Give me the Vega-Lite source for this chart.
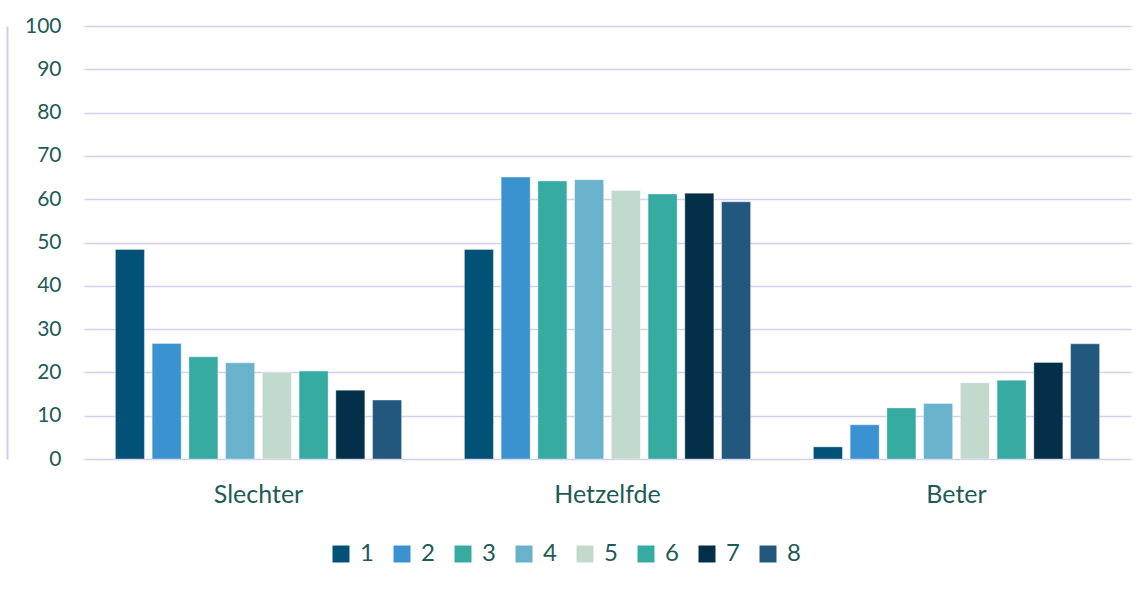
{
  "$schema": "https://vega.github.io/schema/vega-lite/v6.json",
  "width": 1047,
  "height": 433,
  "autosize": "none",
  "padding": {"left": 84, "top": 26, "right": 14, "bottom": 134},
  "background": "white",
  "config": {
    "view": {"stroke": null},
    "font": "Lato"
  },
  "data": {
    "values": [
      {"cat": "Slechter", "serie": "1", "v": 48.4},
      {"cat": "Slechter", "serie": "2", "v": 26.7},
      {"cat": "Slechter", "serie": "3", "v": 23.6},
      {"cat": "Slechter", "serie": "4", "v": 22.2},
      {"cat": "Slechter", "serie": "5", "v": 20.0},
      {"cat": "Slechter", "serie": "6", "v": 20.3},
      {"cat": "Slechter", "serie": "7", "v": 15.9},
      {"cat": "Slechter", "serie": "8", "v": 13.6},
      {"cat": "Hetzelfde", "serie": "1", "v": 48.4},
      {"cat": "Hetzelfde", "serie": "2", "v": 65.1},
      {"cat": "Hetzelfde", "serie": "3", "v": 64.2},
      {"cat": "Hetzelfde", "serie": "4", "v": 64.5},
      {"cat": "Hetzelfde", "serie": "5", "v": 62.0},
      {"cat": "Hetzelfde", "serie": "6", "v": 61.2},
      {"cat": "Hetzelfde", "serie": "7", "v": 61.4},
      {"cat": "Hetzelfde", "serie": "8", "v": 59.4},
      {"cat": "Beter", "serie": "1", "v": 2.8},
      {"cat": "Beter", "serie": "2", "v": 7.9},
      {"cat": "Beter", "serie": "3", "v": 11.8},
      {"cat": "Beter", "serie": "4", "v": 12.8},
      {"cat": "Beter", "serie": "5", "v": 17.6},
      {"cat": "Beter", "serie": "6", "v": 18.2},
      {"cat": "Beter", "serie": "7", "v": 22.3},
      {"cat": "Beter", "serie": "8", "v": 26.6}
    ]
  },
  "mark": {"type": "bar", "stroke": "white", "strokeWidth": 0.6, "strokeOpacity": 0.6},
  "encoding": {
    "x": {
      "field": "cat",
      "type": "nominal",
      "sort": ["Slechter", "Hetzelfde", "Beter"],
      "scale": {"paddingInner": 0.18, "paddingOuter": 0.09},
      "axis": {
        "title": null,
        "labelAngle": 0,
        "labelFontSize": 25,
        "labelColor": "#1E5B57",
        "labelPadding": 23,
        "ticks": false,
        "domain": false
      }
    },
    "xOffset": {
      "field": "serie",
      "type": "nominal",
      "scale": {"paddingInner": 0.21, "paddingOuter": 0}
    },
    "y": {
      "field": "v",
      "type": "quantitative",
      "scale": {"domain": [0, 100]},
      "axis": {
        "title": null,
        "values": [0, 10, 20, 30, 40, 50, 60, 70, 80, 90, 100],
        "labelFontSize": 21,
        "labelColor": "#1E5B57",
        "ticks": false,
        "domain": true,
        "domainColor": "#CFCBEE",
        "domainWidth": 2,
        "offset": 77,
        "labelPadding": -54,
        "grid": true,
        "gridColor": "#D3CFF0",
        "gridWidth": 1.6
      }
    },
    "color": {
      "field": "serie",
      "type": "nominal",
      "scale": {
        "domain": ["1", "2", "3", "4", "5", "6", "7", "8"],
        "range": ["#025177", "#3A93D0", "#36ABA2", "#68B2CB", "#C2DACE", "#36ABA2", "#033048", "#22587E"]
      },
      "legend": {
        "title": null,
        "orient": "none",
        "legendX": 245,
        "legendY": 516,
        "direction": "horizontal",
        "symbolType": "square",
        "symbolSize": 289,
        "symbolStrokeWidth": 0,
        "labelFontSize": 24,
        "labelColor": "#1E5B57",
        "labelOffset": 7,
        "columnPadding": 16
      }
    }
  }
}
